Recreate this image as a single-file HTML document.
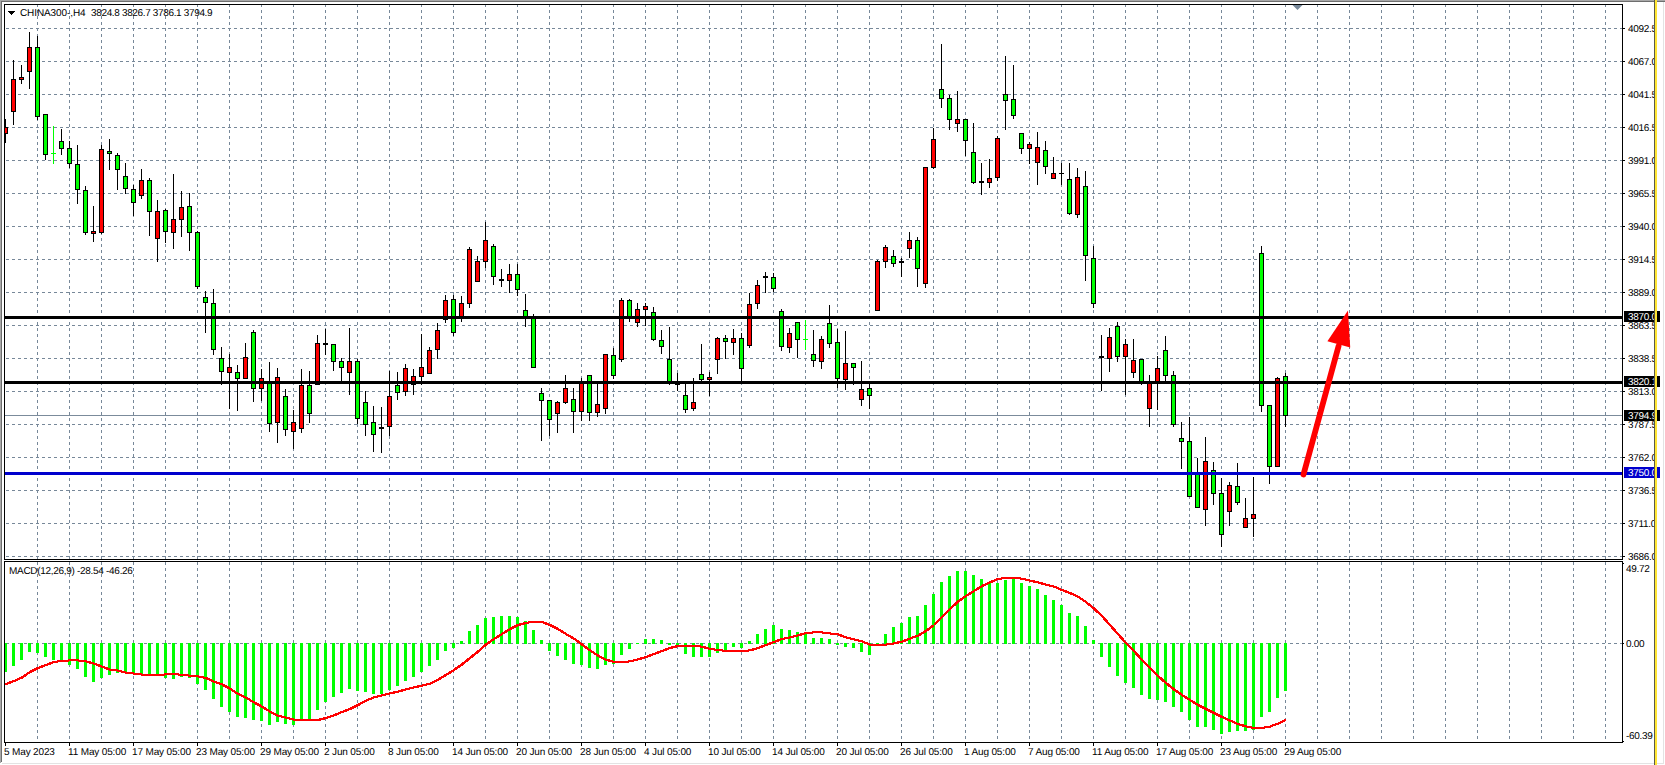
<!DOCTYPE html>
<html><head><meta charset="utf-8"><title>CHINA300-,H4</title>
<style>
html,body{margin:0;padding:0;background:#fff;overflow:hidden}
body{width:1665px;height:765px}
svg{display:block;position:absolute;left:0;top:0}
text{font-family:"Liberation Sans",sans-serif;font-size:10px;fill:#000;letter-spacing:-0.3px;text-rendering:geometricPrecision}
.w{fill:#fff}
.d{letter-spacing:-0.15px}
</style></head><body>
<svg width="1665" height="765" viewBox="0 0 1665 765">
<rect x="0" y="0" width="1665" height="765" fill="#fff"/>
<g shape-rendering="crispEdges">
<rect x="0" y="0" width="1665" height="1" fill="#a8a8a8"/>
<rect x="0" y="1" width="1665" height="1" fill="#6e6e6e"/>
<rect x="0" y="0" width="1" height="763" fill="#a8a8a8"/>
<rect x="1" y="1" width="1" height="761" fill="#6e6e6e"/>
<rect x="1663" y="2" width="1" height="762" fill="#e3e3e3"/>
<rect x="2" y="763" width="1662" height="1" fill="#e3e3e3"/>
<g stroke="#778899" stroke-width="1" stroke-dasharray="3 3" fill="none">
<line x1="37.5" y1="4" x2="37.5" y2="559"/><line x1="37.5" y1="562" x2="37.5" y2="742"/>
<line x1="69.5" y1="4" x2="69.5" y2="559"/><line x1="69.5" y1="562" x2="69.5" y2="742"/>
<line x1="101.5" y1="4" x2="101.5" y2="559"/><line x1="101.5" y1="562" x2="101.5" y2="742"/>
<line x1="133.5" y1="4" x2="133.5" y2="559"/><line x1="133.5" y1="562" x2="133.5" y2="742"/>
<line x1="165.5" y1="4" x2="165.5" y2="559"/><line x1="165.5" y1="562" x2="165.5" y2="742"/>
<line x1="197.5" y1="4" x2="197.5" y2="559"/><line x1="197.5" y1="562" x2="197.5" y2="742"/>
<line x1="229.5" y1="4" x2="229.5" y2="559"/><line x1="229.5" y1="562" x2="229.5" y2="742"/>
<line x1="261.5" y1="4" x2="261.5" y2="559"/><line x1="261.5" y1="562" x2="261.5" y2="742"/>
<line x1="293.5" y1="4" x2="293.5" y2="559"/><line x1="293.5" y1="562" x2="293.5" y2="742"/>
<line x1="325.5" y1="4" x2="325.5" y2="559"/><line x1="325.5" y1="562" x2="325.5" y2="742"/>
<line x1="357.5" y1="4" x2="357.5" y2="559"/><line x1="357.5" y1="562" x2="357.5" y2="742"/>
<line x1="389.5" y1="4" x2="389.5" y2="559"/><line x1="389.5" y1="562" x2="389.5" y2="742"/>
<line x1="421.5" y1="4" x2="421.5" y2="559"/><line x1="421.5" y1="562" x2="421.5" y2="742"/>
<line x1="453.5" y1="4" x2="453.5" y2="559"/><line x1="453.5" y1="562" x2="453.5" y2="742"/>
<line x1="485.5" y1="4" x2="485.5" y2="559"/><line x1="485.5" y1="562" x2="485.5" y2="742"/>
<line x1="517.5" y1="4" x2="517.5" y2="559"/><line x1="517.5" y1="562" x2="517.5" y2="742"/>
<line x1="549.5" y1="4" x2="549.5" y2="559"/><line x1="549.5" y1="562" x2="549.5" y2="742"/>
<line x1="581.5" y1="4" x2="581.5" y2="559"/><line x1="581.5" y1="562" x2="581.5" y2="742"/>
<line x1="613.5" y1="4" x2="613.5" y2="559"/><line x1="613.5" y1="562" x2="613.5" y2="742"/>
<line x1="645.5" y1="4" x2="645.5" y2="559"/><line x1="645.5" y1="562" x2="645.5" y2="742"/>
<line x1="677.5" y1="4" x2="677.5" y2="559"/><line x1="677.5" y1="562" x2="677.5" y2="742"/>
<line x1="709.5" y1="4" x2="709.5" y2="559"/><line x1="709.5" y1="562" x2="709.5" y2="742"/>
<line x1="741.5" y1="4" x2="741.5" y2="559"/><line x1="741.5" y1="562" x2="741.5" y2="742"/>
<line x1="773.5" y1="4" x2="773.5" y2="559"/><line x1="773.5" y1="562" x2="773.5" y2="742"/>
<line x1="805.5" y1="4" x2="805.5" y2="559"/><line x1="805.5" y1="562" x2="805.5" y2="742"/>
<line x1="837.5" y1="4" x2="837.5" y2="559"/><line x1="837.5" y1="562" x2="837.5" y2="742"/>
<line x1="869.5" y1="4" x2="869.5" y2="559"/><line x1="869.5" y1="562" x2="869.5" y2="742"/>
<line x1="901.5" y1="4" x2="901.5" y2="559"/><line x1="901.5" y1="562" x2="901.5" y2="742"/>
<line x1="933.5" y1="4" x2="933.5" y2="559"/><line x1="933.5" y1="562" x2="933.5" y2="742"/>
<line x1="965.5" y1="4" x2="965.5" y2="559"/><line x1="965.5" y1="562" x2="965.5" y2="742"/>
<line x1="997.5" y1="4" x2="997.5" y2="559"/><line x1="997.5" y1="562" x2="997.5" y2="742"/>
<line x1="1029.5" y1="4" x2="1029.5" y2="559"/><line x1="1029.5" y1="562" x2="1029.5" y2="742"/>
<line x1="1061.5" y1="4" x2="1061.5" y2="559"/><line x1="1061.5" y1="562" x2="1061.5" y2="742"/>
<line x1="1093.5" y1="4" x2="1093.5" y2="559"/><line x1="1093.5" y1="562" x2="1093.5" y2="742"/>
<line x1="1125.5" y1="4" x2="1125.5" y2="559"/><line x1="1125.5" y1="562" x2="1125.5" y2="742"/>
<line x1="1157.5" y1="4" x2="1157.5" y2="559"/><line x1="1157.5" y1="562" x2="1157.5" y2="742"/>
<line x1="1189.5" y1="4" x2="1189.5" y2="559"/><line x1="1189.5" y1="562" x2="1189.5" y2="742"/>
<line x1="1221.5" y1="4" x2="1221.5" y2="559"/><line x1="1221.5" y1="562" x2="1221.5" y2="742"/>
<line x1="1253.5" y1="4" x2="1253.5" y2="559"/><line x1="1253.5" y1="562" x2="1253.5" y2="742"/>
<line x1="1285.5" y1="4" x2="1285.5" y2="559"/><line x1="1285.5" y1="562" x2="1285.5" y2="742"/>
<line x1="1317.5" y1="4" x2="1317.5" y2="559"/><line x1="1317.5" y1="562" x2="1317.5" y2="742"/>
<line x1="1349.5" y1="4" x2="1349.5" y2="559"/><line x1="1349.5" y1="562" x2="1349.5" y2="742"/>
<line x1="1381.5" y1="4" x2="1381.5" y2="559"/><line x1="1381.5" y1="562" x2="1381.5" y2="742"/>
<line x1="1413.5" y1="4" x2="1413.5" y2="559"/><line x1="1413.5" y1="562" x2="1413.5" y2="742"/>
<line x1="1445.5" y1="4" x2="1445.5" y2="559"/><line x1="1445.5" y1="562" x2="1445.5" y2="742"/>
<line x1="1477.5" y1="4" x2="1477.5" y2="559"/><line x1="1477.5" y1="562" x2="1477.5" y2="742"/>
<line x1="1509.5" y1="4" x2="1509.5" y2="559"/><line x1="1509.5" y1="562" x2="1509.5" y2="742"/>
<line x1="1541.5" y1="4" x2="1541.5" y2="559"/><line x1="1541.5" y1="562" x2="1541.5" y2="742"/>
<line x1="1573.5" y1="4" x2="1573.5" y2="559"/><line x1="1573.5" y1="562" x2="1573.5" y2="742"/>
<line x1="1605.5" y1="4" x2="1605.5" y2="559"/><line x1="1605.5" y1="562" x2="1605.5" y2="742"/>
<line x1="6" y1="28.5" x2="1622" y2="28.5"/>
<line x1="6" y1="61.5" x2="1622" y2="61.5"/>
<line x1="6" y1="94.5" x2="1622" y2="94.5"/>
<line x1="6" y1="127.5" x2="1622" y2="127.5"/>
<line x1="6" y1="160.5" x2="1622" y2="160.5"/>
<line x1="6" y1="193.5" x2="1622" y2="193.5"/>
<line x1="6" y1="226.5" x2="1622" y2="226.5"/>
<line x1="6" y1="259.5" x2="1622" y2="259.5"/>
<line x1="6" y1="292.5" x2="1622" y2="292.5"/>
<line x1="6" y1="325.5" x2="1622" y2="325.5"/>
<line x1="6" y1="358.5" x2="1622" y2="358.5"/>
<line x1="6" y1="391.5" x2="1622" y2="391.5"/>
<line x1="6" y1="424.5" x2="1622" y2="424.5"/>
<line x1="6" y1="457.5" x2="1622" y2="457.5"/>
<line x1="6" y1="490.5" x2="1622" y2="490.5"/>
<line x1="6" y1="523.5" x2="1622" y2="523.5"/>
<line x1="6" y1="556.5" x2="1622" y2="556.5"/>
<line x1="6" y1="643.5" x2="1622" y2="643.5"/>
</g>
<polygon points="1292.5,5 1302.5,5 1297.5,10" fill="#778899" shape-rendering="auto"/>
<clipPath id="cm"><rect x="5" y="5" width="1617" height="554"/></clipPath>
<g clip-path="url(#cm)">
<rect x="5" y="415" width="1617" height="1" fill="#7b8b9b"/>
<rect x="5" y="119" width="1" height="24" fill="#000"/><rect x="3" y="127" width="5" height="7" fill="#000"/><rect x="4" y="128" width="3" height="5" fill="#f00"/>
<rect x="13" y="60" width="1" height="65" fill="#000"/><rect x="11" y="79" width="5" height="33" fill="#000"/><rect x="12" y="80" width="3" height="31" fill="#f00"/>
<rect x="21" y="65" width="1" height="19" fill="#000"/><rect x="19" y="77" width="5" height="3" fill="#000"/><rect x="20" y="78" width="3" height="1" fill="#f00"/>
<rect x="29" y="32" width="1" height="57" fill="#000"/><rect x="27" y="47" width="5" height="25" fill="#000"/><rect x="28" y="48" width="3" height="23" fill="#f00"/>
<rect x="37" y="36" width="1" height="84" fill="#000"/><rect x="35" y="47" width="5" height="70" fill="#000"/><rect x="36" y="48" width="3" height="68" fill="#0f0"/>
<rect x="45" y="114" width="1" height="46" fill="#000"/><rect x="43" y="114" width="5" height="41" fill="#000"/><rect x="44" y="115" width="3" height="39" fill="#0f0"/>
<rect x="53" y="126" width="1" height="38" fill="#0f0"/><rect x="51" y="153" width="5" height="1" fill="#0f0"/>
<rect x="61" y="129" width="1" height="26" fill="#000"/><rect x="59" y="141" width="5" height="8" fill="#000"/><rect x="60" y="142" width="3" height="6" fill="#0f0"/>
<rect x="69" y="141" width="1" height="27" fill="#000"/><rect x="67" y="148" width="5" height="16" fill="#000"/><rect x="68" y="149" width="3" height="14" fill="#0f0"/>
<rect x="77" y="145" width="1" height="59" fill="#000"/><rect x="75" y="164" width="5" height="26" fill="#000"/><rect x="76" y="165" width="3" height="24" fill="#0f0"/>
<rect x="85" y="186" width="1" height="49" fill="#000"/><rect x="83" y="190" width="5" height="43" fill="#000"/><rect x="84" y="191" width="3" height="41" fill="#0f0"/>
<rect x="93" y="206" width="1" height="36" fill="#000"/><rect x="91" y="231" width="5" height="3" fill="#000"/><rect x="92" y="232" width="3" height="1" fill="#f00"/>
<rect x="101" y="145" width="1" height="89" fill="#000"/><rect x="99" y="149" width="5" height="84" fill="#000"/><rect x="100" y="150" width="3" height="82" fill="#f00"/>
<rect x="109" y="139" width="1" height="31" fill="#000"/><rect x="107" y="151" width="5" height="3" fill="#000"/><rect x="108" y="152" width="3" height="1" fill="#0f0"/>
<rect x="117" y="153" width="1" height="37" fill="#000"/><rect x="115" y="155" width="5" height="15" fill="#000"/><rect x="116" y="156" width="3" height="13" fill="#0f0"/>
<rect x="125" y="163" width="1" height="31" fill="#000"/><rect x="123" y="176" width="5" height="13" fill="#000"/><rect x="124" y="177" width="3" height="11" fill="#0f0"/>
<rect x="133" y="185" width="1" height="31" fill="#000"/><rect x="131" y="189" width="5" height="14" fill="#000"/><rect x="132" y="190" width="3" height="12" fill="#0f0"/>
<rect x="141" y="169" width="1" height="30" fill="#000"/><rect x="139" y="180" width="5" height="16" fill="#000"/><rect x="140" y="181" width="3" height="14" fill="#f00"/>
<rect x="149" y="178" width="1" height="58" fill="#000"/><rect x="147" y="180" width="5" height="32" fill="#000"/><rect x="148" y="181" width="3" height="30" fill="#0f0"/>
<rect x="157" y="200" width="1" height="62" fill="#000"/><rect x="155" y="211" width="5" height="28" fill="#000"/><rect x="156" y="212" width="3" height="26" fill="#f00"/>
<rect x="165" y="209" width="1" height="34" fill="#000"/><rect x="163" y="210" width="5" height="22" fill="#000"/><rect x="164" y="211" width="3" height="20" fill="#0f0"/>
<rect x="173" y="174" width="1" height="75" fill="#000"/><rect x="171" y="219" width="5" height="14" fill="#000"/><rect x="172" y="220" width="3" height="12" fill="#f00"/>
<rect x="181" y="191" width="1" height="46" fill="#000"/><rect x="179" y="207" width="5" height="13" fill="#000"/><rect x="180" y="208" width="3" height="11" fill="#f00"/>
<rect x="189" y="193" width="1" height="58" fill="#000"/><rect x="187" y="206" width="5" height="27" fill="#000"/><rect x="188" y="207" width="3" height="25" fill="#0f0"/>
<rect x="197" y="231" width="1" height="58" fill="#000"/><rect x="195" y="232" width="5" height="55" fill="#000"/><rect x="196" y="233" width="3" height="53" fill="#0f0"/>
<rect x="205" y="291" width="1" height="42" fill="#000"/><rect x="203" y="297" width="5" height="6" fill="#000"/><rect x="204" y="298" width="3" height="4" fill="#0f0"/>
<rect x="213" y="289" width="1" height="66" fill="#000"/><rect x="211" y="303" width="5" height="47" fill="#000"/><rect x="212" y="304" width="3" height="45" fill="#0f0"/>
<rect x="221" y="347" width="1" height="38" fill="#000"/><rect x="219" y="358" width="5" height="14" fill="#000"/><rect x="220" y="359" width="3" height="12" fill="#0f0"/>
<rect x="229" y="354" width="1" height="55" fill="#000"/><rect x="227" y="367" width="5" height="6" fill="#000"/><rect x="228" y="368" width="3" height="4" fill="#f00"/>
<rect x="237" y="365" width="1" height="46" fill="#000"/><rect x="235" y="372" width="5" height="7" fill="#000"/><rect x="236" y="373" width="3" height="5" fill="#0f0"/>
<rect x="245" y="343" width="1" height="36" fill="#000"/><rect x="243" y="357" width="5" height="22" fill="#000"/><rect x="244" y="358" width="3" height="20" fill="#f00"/>
<rect x="253" y="330" width="1" height="72" fill="#000"/><rect x="251" y="332" width="5" height="57" fill="#000"/><rect x="252" y="333" width="3" height="55" fill="#0f0"/>
<rect x="261" y="369" width="1" height="32" fill="#000"/><rect x="259" y="378" width="5" height="11" fill="#000"/><rect x="260" y="379" width="3" height="9" fill="#f00"/>
<rect x="269" y="362" width="1" height="70" fill="#000"/><rect x="267" y="382" width="5" height="42" fill="#000"/><rect x="268" y="383" width="3" height="40" fill="#0f0"/>
<rect x="277" y="368" width="1" height="75" fill="#000"/><rect x="275" y="377" width="5" height="46" fill="#000"/><rect x="276" y="378" width="3" height="44" fill="#f00"/>
<rect x="285" y="389" width="1" height="47" fill="#000"/><rect x="283" y="396" width="5" height="34" fill="#000"/><rect x="284" y="397" width="3" height="32" fill="#0f0"/>
<rect x="293" y="410" width="1" height="39" fill="#000"/><rect x="291" y="422" width="5" height="10" fill="#000"/><rect x="292" y="423" width="3" height="8" fill="#f00"/>
<rect x="301" y="369" width="1" height="64" fill="#000"/><rect x="299" y="385" width="5" height="44" fill="#000"/><rect x="300" y="386" width="3" height="42" fill="#f00"/>
<rect x="309" y="371" width="1" height="52" fill="#000"/><rect x="307" y="385" width="5" height="29" fill="#000"/><rect x="308" y="386" width="3" height="27" fill="#0f0"/>
<rect x="317" y="335" width="1" height="50" fill="#000"/><rect x="315" y="343" width="5" height="42" fill="#000"/><rect x="316" y="344" width="3" height="40" fill="#f00"/>
<rect x="325" y="329" width="1" height="26" fill="#000"/><rect x="323" y="343" width="5" height="2" fill="#000"/>
<rect x="333" y="344" width="1" height="27" fill="#000"/><rect x="331" y="344" width="5" height="18" fill="#000"/><rect x="332" y="345" width="3" height="16" fill="#0f0"/>
<rect x="341" y="358" width="1" height="24" fill="#000"/><rect x="339" y="361" width="5" height="7" fill="#000"/><rect x="340" y="362" width="3" height="5" fill="#0f0"/>
<rect x="349" y="328" width="1" height="67" fill="#000"/><rect x="347" y="361" width="5" height="12" fill="#000"/><rect x="348" y="362" width="3" height="10" fill="#f00"/>
<rect x="357" y="359" width="1" height="65" fill="#000"/><rect x="355" y="361" width="5" height="58" fill="#000"/><rect x="356" y="362" width="3" height="56" fill="#0f0"/>
<rect x="365" y="391" width="1" height="45" fill="#000"/><rect x="363" y="402" width="5" height="23" fill="#000"/><rect x="364" y="403" width="3" height="21" fill="#0f0"/>
<rect x="373" y="406" width="1" height="46" fill="#000"/><rect x="371" y="422" width="5" height="13" fill="#000"/><rect x="372" y="423" width="3" height="11" fill="#0f0"/>
<rect x="381" y="407" width="1" height="46" fill="#000"/><rect x="379" y="427" width="5" height="2" fill="#000"/>
<rect x="389" y="371" width="1" height="65" fill="#000"/><rect x="387" y="396" width="5" height="31" fill="#000"/><rect x="388" y="397" width="3" height="29" fill="#f00"/>
<rect x="397" y="372" width="1" height="28" fill="#000"/><rect x="395" y="385" width="5" height="8" fill="#000"/><rect x="396" y="386" width="3" height="6" fill="#0f0"/>
<rect x="405" y="364" width="1" height="32" fill="#000"/><rect x="403" y="368" width="5" height="24" fill="#000"/><rect x="404" y="369" width="3" height="22" fill="#f00"/>
<rect x="413" y="369" width="1" height="26" fill="#000"/><rect x="411" y="376" width="5" height="9" fill="#000"/><rect x="412" y="377" width="3" height="7" fill="#f00"/>
<rect x="421" y="334" width="1" height="51" fill="#000"/><rect x="419" y="367" width="5" height="10" fill="#000"/><rect x="420" y="368" width="3" height="8" fill="#f00"/>
<rect x="429" y="347" width="1" height="27" fill="#000"/><rect x="427" y="350" width="5" height="24" fill="#000"/><rect x="428" y="351" width="3" height="22" fill="#f00"/>
<rect x="437" y="323" width="1" height="36" fill="#000"/><rect x="435" y="330" width="5" height="20" fill="#000"/><rect x="436" y="331" width="3" height="18" fill="#f00"/>
<rect x="445" y="295" width="1" height="28" fill="#000"/><rect x="443" y="300" width="5" height="20" fill="#000"/><rect x="444" y="301" width="3" height="18" fill="#f00"/>
<rect x="453" y="295" width="1" height="41" fill="#000"/><rect x="451" y="299" width="5" height="34" fill="#000"/><rect x="452" y="300" width="3" height="32" fill="#0f0"/>
<rect x="461" y="296" width="1" height="26" fill="#000"/><rect x="459" y="303" width="5" height="16" fill="#000"/><rect x="460" y="304" width="3" height="14" fill="#f00"/>
<rect x="469" y="247" width="1" height="61" fill="#000"/><rect x="467" y="249" width="5" height="55" fill="#000"/><rect x="468" y="250" width="3" height="53" fill="#f00"/>
<rect x="477" y="256" width="1" height="26" fill="#000"/><rect x="475" y="261" width="5" height="21" fill="#000"/><rect x="476" y="262" width="3" height="19" fill="#f00"/>
<rect x="485" y="222" width="1" height="46" fill="#000"/><rect x="483" y="240" width="5" height="22" fill="#000"/><rect x="484" y="241" width="3" height="20" fill="#f00"/>
<rect x="493" y="244" width="1" height="41" fill="#000"/><rect x="491" y="246" width="5" height="31" fill="#000"/><rect x="492" y="247" width="3" height="29" fill="#0f0"/>
<rect x="501" y="269" width="1" height="18" fill="#000"/><rect x="499" y="279" width="5" height="2" fill="#000"/>
<rect x="509" y="264" width="1" height="29" fill="#000"/><rect x="507" y="274" width="5" height="7" fill="#000"/><rect x="508" y="275" width="3" height="5" fill="#f00"/>
<rect x="517" y="264" width="1" height="32" fill="#000"/><rect x="515" y="274" width="5" height="16" fill="#000"/><rect x="516" y="275" width="3" height="14" fill="#0f0"/>
<rect x="525" y="294" width="1" height="33" fill="#000"/><rect x="523" y="310" width="5" height="9" fill="#000"/><rect x="524" y="311" width="3" height="7" fill="#0f0"/>
<rect x="533" y="314" width="1" height="54" fill="#000"/><rect x="531" y="316" width="5" height="52" fill="#000"/><rect x="532" y="317" width="3" height="50" fill="#0f0"/>
<rect x="541" y="388" width="1" height="53" fill="#000"/><rect x="539" y="393" width="5" height="8" fill="#000"/><rect x="540" y="394" width="3" height="6" fill="#0f0"/>
<rect x="549" y="400" width="1" height="36" fill="#000"/><rect x="547" y="400" width="5" height="20" fill="#000"/><rect x="548" y="401" width="3" height="18" fill="#0f0"/>
<rect x="557" y="401" width="1" height="32" fill="#000"/><rect x="555" y="402" width="5" height="12" fill="#000"/><rect x="556" y="403" width="3" height="10" fill="#f00"/>
<rect x="565" y="375" width="1" height="29" fill="#000"/><rect x="563" y="388" width="5" height="15" fill="#000"/><rect x="564" y="389" width="3" height="13" fill="#f00"/>
<rect x="573" y="388" width="1" height="45" fill="#000"/><rect x="571" y="399" width="5" height="13" fill="#000"/><rect x="572" y="400" width="3" height="11" fill="#0f0"/>
<rect x="581" y="378" width="1" height="43" fill="#000"/><rect x="579" y="382" width="5" height="30" fill="#000"/><rect x="580" y="383" width="3" height="28" fill="#f00"/>
<rect x="589" y="375" width="1" height="46" fill="#000"/><rect x="587" y="375" width="5" height="38" fill="#000"/><rect x="588" y="376" width="3" height="36" fill="#0f0"/>
<rect x="597" y="381" width="1" height="36" fill="#000"/><rect x="595" y="404" width="5" height="9" fill="#000"/><rect x="596" y="405" width="3" height="7" fill="#f00"/>
<rect x="605" y="354" width="1" height="60" fill="#000"/><rect x="603" y="354" width="5" height="55" fill="#000"/><rect x="604" y="355" width="3" height="53" fill="#f00"/>
<rect x="613" y="348" width="1" height="31" fill="#000"/><rect x="611" y="355" width="5" height="21" fill="#000"/><rect x="612" y="356" width="3" height="19" fill="#0f0"/>
<rect x="621" y="298" width="1" height="64" fill="#000"/><rect x="619" y="300" width="5" height="60" fill="#000"/><rect x="620" y="301" width="3" height="58" fill="#f00"/>
<rect x="629" y="299" width="1" height="23" fill="#000"/><rect x="627" y="300" width="5" height="19" fill="#000"/><rect x="628" y="301" width="3" height="17" fill="#0f0"/>
<rect x="637" y="303" width="1" height="24" fill="#000"/><rect x="635" y="309" width="5" height="14" fill="#000"/><rect x="636" y="310" width="3" height="12" fill="#f00"/>
<rect x="645" y="303" width="1" height="23" fill="#000"/><rect x="643" y="306" width="5" height="4" fill="#000"/><rect x="644" y="307" width="3" height="2" fill="#f00"/>
<rect x="653" y="307" width="1" height="34" fill="#000"/><rect x="651" y="312" width="5" height="28" fill="#000"/><rect x="652" y="313" width="3" height="26" fill="#0f0"/>
<rect x="661" y="330" width="1" height="24" fill="#000"/><rect x="659" y="340" width="5" height="7" fill="#000"/><rect x="660" y="341" width="3" height="5" fill="#0f0"/>
<rect x="669" y="327" width="1" height="58" fill="#000"/><rect x="667" y="359" width="5" height="25" fill="#000"/><rect x="668" y="360" width="3" height="23" fill="#0f0"/>
<rect x="677" y="373" width="1" height="18" fill="#000"/><rect x="675" y="384" width="5" height="1" fill="#000"/>
<rect x="685" y="381" width="1" height="32" fill="#000"/><rect x="683" y="395" width="5" height="15" fill="#000"/><rect x="684" y="396" width="3" height="13" fill="#0f0"/>
<rect x="693" y="378" width="1" height="33" fill="#000"/><rect x="691" y="402" width="5" height="7" fill="#000"/><rect x="692" y="403" width="3" height="5" fill="#f00"/>
<rect x="701" y="344" width="1" height="38" fill="#000"/><rect x="699" y="374" width="5" height="6" fill="#000"/><rect x="700" y="375" width="3" height="4" fill="#0f0"/>
<rect x="709" y="372" width="1" height="24" fill="#000"/><rect x="707" y="377" width="5" height="3" fill="#000"/><rect x="708" y="378" width="3" height="1" fill="#f00"/>
<rect x="717" y="337" width="1" height="37" fill="#000"/><rect x="715" y="338" width="5" height="22" fill="#000"/><rect x="716" y="339" width="3" height="20" fill="#f00"/>
<rect x="725" y="335" width="1" height="24" fill="#000"/><rect x="723" y="338" width="5" height="4" fill="#000"/><rect x="724" y="339" width="3" height="2" fill="#0f0"/>
<rect x="733" y="329" width="1" height="26" fill="#000"/><rect x="731" y="338" width="5" height="5" fill="#000"/><rect x="732" y="339" width="3" height="3" fill="#f00"/>
<rect x="741" y="333" width="1" height="49" fill="#000"/><rect x="739" y="338" width="5" height="31" fill="#000"/><rect x="740" y="339" width="3" height="29" fill="#0f0"/>
<rect x="749" y="293" width="1" height="55" fill="#000"/><rect x="747" y="304" width="5" height="42" fill="#000"/><rect x="748" y="305" width="3" height="40" fill="#f00"/>
<rect x="757" y="280" width="1" height="29" fill="#000"/><rect x="755" y="285" width="5" height="19" fill="#000"/><rect x="756" y="286" width="3" height="17" fill="#f00"/>
<rect x="765" y="272" width="1" height="21" fill="#000"/><rect x="763" y="276" width="5" height="2" fill="#000"/>
<rect x="773" y="273" width="1" height="19" fill="#000"/><rect x="771" y="277" width="5" height="12" fill="#000"/><rect x="772" y="278" width="3" height="10" fill="#0f0"/>
<rect x="781" y="309" width="1" height="42" fill="#000"/><rect x="779" y="311" width="5" height="36" fill="#000"/><rect x="780" y="312" width="3" height="34" fill="#0f0"/>
<rect x="789" y="328" width="1" height="25" fill="#000"/><rect x="787" y="333" width="5" height="15" fill="#000"/><rect x="788" y="334" width="3" height="13" fill="#f00"/>
<rect x="797" y="322" width="1" height="36" fill="#000"/><rect x="795" y="322" width="5" height="18" fill="#000"/><rect x="796" y="323" width="3" height="16" fill="#0f0"/>
<rect x="805" y="320" width="1" height="30" fill="#0f0"/><rect x="803" y="339" width="5" height="1" fill="#0f0"/>
<rect x="813" y="330" width="1" height="37" fill="#000"/><rect x="811" y="354" width="5" height="7" fill="#000"/><rect x="812" y="355" width="3" height="5" fill="#0f0"/>
<rect x="821" y="336" width="1" height="33" fill="#000"/><rect x="819" y="339" width="5" height="23" fill="#000"/><rect x="820" y="340" width="3" height="21" fill="#f00"/>
<rect x="829" y="305" width="1" height="43" fill="#000"/><rect x="827" y="323" width="5" height="21" fill="#000"/><rect x="828" y="324" width="3" height="19" fill="#0f0"/>
<rect x="837" y="329" width="1" height="59" fill="#000"/><rect x="835" y="342" width="5" height="37" fill="#000"/><rect x="836" y="343" width="3" height="35" fill="#0f0"/>
<rect x="845" y="331" width="1" height="59" fill="#000"/><rect x="843" y="363" width="5" height="17" fill="#000"/><rect x="844" y="364" width="3" height="15" fill="#f00"/>
<rect x="853" y="363" width="1" height="22" fill="#000"/><rect x="851" y="363" width="5" height="5" fill="#000"/><rect x="852" y="364" width="3" height="3" fill="#0f0"/>
<rect x="861" y="361" width="1" height="45" fill="#000"/><rect x="859" y="389" width="5" height="11" fill="#000"/><rect x="860" y="390" width="3" height="9" fill="#f00"/>
<rect x="869" y="384" width="1" height="25" fill="#000"/><rect x="867" y="388" width="5" height="8" fill="#000"/><rect x="868" y="389" width="3" height="6" fill="#0f0"/>
<rect x="877" y="260" width="1" height="51" fill="#000"/><rect x="875" y="261" width="5" height="50" fill="#000"/><rect x="876" y="262" width="3" height="48" fill="#f00"/>
<rect x="885" y="245" width="1" height="23" fill="#000"/><rect x="883" y="247" width="5" height="15" fill="#000"/><rect x="884" y="248" width="3" height="13" fill="#f00"/>
<rect x="893" y="250" width="1" height="17" fill="#000"/><rect x="891" y="256" width="5" height="8" fill="#000"/><rect x="892" y="257" width="3" height="6" fill="#0f0"/>
<rect x="901" y="258" width="1" height="19" fill="#000"/><rect x="899" y="261" width="5" height="2" fill="#000"/>
<rect x="909" y="232" width="1" height="26" fill="#000"/><rect x="907" y="240" width="5" height="9" fill="#000"/><rect x="908" y="241" width="3" height="7" fill="#f00"/>
<rect x="917" y="237" width="1" height="50" fill="#000"/><rect x="915" y="240" width="5" height="29" fill="#000"/><rect x="916" y="241" width="3" height="27" fill="#0f0"/>
<rect x="925" y="167" width="1" height="121" fill="#000"/><rect x="923" y="167" width="5" height="117" fill="#000"/><rect x="924" y="168" width="3" height="115" fill="#f00"/>
<rect x="933" y="128" width="1" height="41" fill="#000"/><rect x="931" y="139" width="5" height="29" fill="#000"/><rect x="932" y="140" width="3" height="27" fill="#f00"/>
<rect x="941" y="44" width="1" height="64" fill="#000"/><rect x="939" y="89" width="5" height="10" fill="#000"/><rect x="940" y="90" width="3" height="8" fill="#0f0"/>
<rect x="949" y="95" width="1" height="35" fill="#000"/><rect x="947" y="98" width="5" height="22" fill="#000"/><rect x="948" y="99" width="3" height="20" fill="#0f0"/>
<rect x="957" y="91" width="1" height="41" fill="#000"/><rect x="955" y="119" width="5" height="5" fill="#000"/><rect x="956" y="120" width="3" height="3" fill="#f00"/>
<rect x="965" y="119" width="1" height="37" fill="#000"/><rect x="963" y="119" width="5" height="22" fill="#000"/><rect x="964" y="120" width="3" height="20" fill="#0f0"/>
<rect x="973" y="123" width="1" height="61" fill="#000"/><rect x="971" y="152" width="5" height="31" fill="#000"/><rect x="972" y="153" width="3" height="29" fill="#0f0"/>
<rect x="981" y="163" width="1" height="32" fill="#000"/><rect x="979" y="181" width="5" height="2" fill="#000"/>
<rect x="989" y="159" width="1" height="29" fill="#000"/><rect x="987" y="178" width="5" height="5" fill="#000"/><rect x="988" y="179" width="3" height="3" fill="#f00"/>
<rect x="997" y="136" width="1" height="45" fill="#000"/><rect x="995" y="138" width="5" height="40" fill="#000"/><rect x="996" y="139" width="3" height="38" fill="#f00"/>
<rect x="1005" y="56" width="1" height="74" fill="#000"/><rect x="1003" y="94" width="5" height="7" fill="#000"/><rect x="1004" y="95" width="3" height="5" fill="#0f0"/>
<rect x="1013" y="65" width="1" height="54" fill="#000"/><rect x="1011" y="99" width="5" height="17" fill="#000"/><rect x="1012" y="100" width="3" height="15" fill="#0f0"/>
<rect x="1021" y="133" width="1" height="21" fill="#000"/><rect x="1019" y="133" width="5" height="16" fill="#000"/><rect x="1020" y="134" width="3" height="14" fill="#0f0"/>
<rect x="1029" y="142" width="1" height="22" fill="#000"/><rect x="1027" y="144" width="5" height="5" fill="#000"/><rect x="1028" y="145" width="3" height="3" fill="#f00"/>
<rect x="1037" y="132" width="1" height="53" fill="#000"/><rect x="1035" y="147" width="5" height="16" fill="#000"/><rect x="1036" y="148" width="3" height="14" fill="#f00"/>
<rect x="1045" y="141" width="1" height="33" fill="#000"/><rect x="1043" y="150" width="5" height="17" fill="#000"/><rect x="1044" y="151" width="3" height="15" fill="#0f0"/>
<rect x="1053" y="157" width="1" height="22" fill="#000"/><rect x="1051" y="173" width="5" height="6" fill="#000"/><rect x="1052" y="174" width="3" height="4" fill="#f00"/>
<rect x="1061" y="163" width="1" height="22" fill="#000"/><rect x="1059" y="173" width="5" height="1" fill="#000"/>
<rect x="1069" y="163" width="1" height="52" fill="#000"/><rect x="1067" y="179" width="5" height="35" fill="#000"/><rect x="1068" y="180" width="3" height="33" fill="#0f0"/>
<rect x="1077" y="168" width="1" height="50" fill="#000"/><rect x="1075" y="177" width="5" height="38" fill="#000"/><rect x="1076" y="178" width="3" height="36" fill="#f00"/>
<rect x="1085" y="171" width="1" height="110" fill="#000"/><rect x="1083" y="186" width="5" height="70" fill="#000"/><rect x="1084" y="187" width="3" height="68" fill="#0f0"/>
<rect x="1093" y="246" width="1" height="62" fill="#000"/><rect x="1091" y="258" width="5" height="46" fill="#000"/><rect x="1092" y="259" width="3" height="44" fill="#0f0"/>
<rect x="1101" y="335" width="1" height="56" fill="#000"/><rect x="1099" y="356" width="5" height="2" fill="#000"/>
<rect x="1109" y="328" width="1" height="44" fill="#000"/><rect x="1107" y="337" width="5" height="22" fill="#000"/><rect x="1108" y="338" width="3" height="20" fill="#f00"/>
<rect x="1117" y="322" width="1" height="40" fill="#000"/><rect x="1115" y="326" width="5" height="31" fill="#000"/><rect x="1116" y="327" width="3" height="29" fill="#0f0"/>
<rect x="1125" y="339" width="1" height="56" fill="#000"/><rect x="1123" y="344" width="5" height="13" fill="#000"/><rect x="1124" y="345" width="3" height="11" fill="#f00"/>
<rect x="1133" y="339" width="1" height="39" fill="#000"/><rect x="1131" y="360" width="5" height="13" fill="#000"/><rect x="1132" y="361" width="3" height="11" fill="#f00"/>
<rect x="1141" y="359" width="1" height="26" fill="#000"/><rect x="1139" y="359" width="5" height="25" fill="#000"/><rect x="1140" y="360" width="3" height="23" fill="#0f0"/>
<rect x="1149" y="375" width="1" height="52" fill="#000"/><rect x="1147" y="382" width="5" height="27" fill="#000"/><rect x="1148" y="383" width="3" height="25" fill="#f00"/>
<rect x="1157" y="356" width="1" height="54" fill="#000"/><rect x="1155" y="368" width="5" height="15" fill="#000"/><rect x="1156" y="369" width="3" height="13" fill="#f00"/>
<rect x="1165" y="336" width="1" height="46" fill="#000"/><rect x="1163" y="350" width="5" height="26" fill="#000"/><rect x="1164" y="351" width="3" height="24" fill="#0f0"/>
<rect x="1173" y="371" width="1" height="56" fill="#000"/><rect x="1171" y="375" width="5" height="50" fill="#000"/><rect x="1172" y="376" width="3" height="48" fill="#0f0"/>
<rect x="1181" y="422" width="1" height="47" fill="#000"/><rect x="1179" y="438" width="5" height="4" fill="#000"/><rect x="1180" y="439" width="3" height="2" fill="#0f0"/>
<rect x="1189" y="417" width="1" height="80" fill="#000"/><rect x="1187" y="441" width="5" height="56" fill="#000"/><rect x="1188" y="442" width="3" height="54" fill="#0f0"/>
<rect x="1197" y="458" width="1" height="50" fill="#000"/><rect x="1195" y="473" width="5" height="35" fill="#000"/><rect x="1196" y="474" width="3" height="33" fill="#0f0"/>
<rect x="1205" y="437" width="1" height="89" fill="#000"/><rect x="1203" y="461" width="5" height="49" fill="#000"/><rect x="1204" y="462" width="3" height="47" fill="#f00"/>
<rect x="1213" y="462" width="1" height="43" fill="#000"/><rect x="1211" y="470" width="5" height="24" fill="#000"/><rect x="1212" y="471" width="3" height="22" fill="#0f0"/>
<rect x="1221" y="478" width="1" height="69" fill="#000"/><rect x="1219" y="493" width="5" height="42" fill="#000"/><rect x="1220" y="494" width="3" height="40" fill="#0f0"/>
<rect x="1229" y="482" width="1" height="44" fill="#000"/><rect x="1227" y="485" width="5" height="27" fill="#000"/><rect x="1228" y="486" width="3" height="25" fill="#f00"/>
<rect x="1237" y="463" width="1" height="42" fill="#000"/><rect x="1235" y="486" width="5" height="17" fill="#000"/><rect x="1236" y="487" width="3" height="15" fill="#0f0"/>
<rect x="1245" y="498" width="1" height="30" fill="#000"/><rect x="1243" y="518" width="5" height="10" fill="#000"/><rect x="1244" y="519" width="3" height="8" fill="#f00"/>
<rect x="1253" y="477" width="1" height="60" fill="#000"/><rect x="1251" y="514" width="5" height="5" fill="#000"/><rect x="1252" y="515" width="3" height="3" fill="#f00"/>
<rect x="1261" y="246" width="1" height="166" fill="#000"/><rect x="1259" y="253" width="5" height="153" fill="#000"/><rect x="1260" y="254" width="3" height="151" fill="#0f0"/>
<rect x="1269" y="405" width="1" height="79" fill="#000"/><rect x="1267" y="405" width="5" height="62" fill="#000"/><rect x="1268" y="406" width="3" height="60" fill="#0f0"/>
<rect x="1277" y="377" width="1" height="90" fill="#000"/><rect x="1275" y="378" width="5" height="89" fill="#000"/><rect x="1276" y="379" width="3" height="87" fill="#f00"/>
<rect x="1285" y="373" width="1" height="54" fill="#000"/><rect x="1283" y="376" width="5" height="40" fill="#000"/><rect x="1284" y="377" width="3" height="38" fill="#0f0"/>
<rect x="5" y="316" width="1617" height="3" fill="#000"/>
<rect x="5" y="381" width="1617" height="3" fill="#000"/>
<rect x="5" y="472" width="1617" height="3" fill="#0000cd"/>
</g>
<g fill="#0f0">
<rect x="4" y="643" width="3" height="29"/><rect x="12" y="643" width="3" height="23"/><rect x="20" y="643" width="3" height="17"/><rect x="28" y="643" width="3" height="9"/><rect x="36" y="643" width="3" height="10"/><rect x="44" y="643" width="3" height="14"/><rect x="52" y="643" width="3" height="17"/><rect x="60" y="643" width="3" height="18"/><rect x="68" y="643" width="3" height="22"/><rect x="76" y="643" width="3" height="26"/><rect x="84" y="643" width="3" height="34"/><rect x="92" y="643" width="3" height="39"/><rect x="100" y="643" width="3" height="35"/><rect x="108" y="643" width="3" height="32"/><rect x="116" y="643" width="3" height="30"/><rect x="124" y="643" width="3" height="30"/><rect x="132" y="643" width="3" height="31"/><rect x="140" y="643" width="3" height="31"/><rect x="148" y="643" width="3" height="32"/><rect x="156" y="643" width="3" height="32"/><rect x="164" y="643" width="3" height="35"/><rect x="172" y="643" width="3" height="36"/><rect x="180" y="643" width="3" height="34"/><rect x="188" y="643" width="3" height="35"/><rect x="196" y="643" width="3" height="41"/><rect x="204" y="643" width="3" height="47"/><rect x="212" y="643" width="3" height="56"/><rect x="220" y="643" width="3" height="64"/><rect x="228" y="643" width="3" height="69"/><rect x="236" y="643" width="3" height="74"/><rect x="244" y="643" width="3" height="75"/><rect x="252" y="643" width="3" height="77"/><rect x="260" y="643" width="3" height="78"/><rect x="268" y="643" width="3" height="82"/><rect x="276" y="643" width="3" height="79"/><rect x="284" y="643" width="3" height="81"/><rect x="292" y="643" width="3" height="82"/><rect x="300" y="643" width="3" height="78"/><rect x="308" y="643" width="3" height="77"/><rect x="316" y="643" width="3" height="67"/><rect x="324" y="643" width="3" height="59"/><rect x="332" y="643" width="3" height="54"/><rect x="340" y="643" width="3" height="50"/><rect x="348" y="643" width="3" height="46"/><rect x="356" y="643" width="3" height="48"/><rect x="364" y="643" width="3" height="49"/><rect x="372" y="643" width="3" height="51"/><rect x="380" y="643" width="3" height="51"/><rect x="388" y="643" width="3" height="47"/><rect x="396" y="643" width="3" height="43"/><rect x="404" y="643" width="3" height="38"/><rect x="412" y="643" width="3" height="34"/><rect x="420" y="643" width="3" height="29"/><rect x="428" y="643" width="3" height="23"/><rect x="436" y="643" width="3" height="17"/><rect x="444" y="643" width="3" height="8"/><rect x="452" y="643" width="3" height="5"/><rect x="460" y="641" width="3" height="3"/><rect x="468" y="631" width="3" height="13"/><rect x="476" y="625" width="3" height="19"/><rect x="484" y="618" width="3" height="26"/><rect x="492" y="617" width="3" height="27"/><rect x="500" y="616" width="3" height="28"/><rect x="508" y="616" width="3" height="28"/><rect x="516" y="617" width="3" height="27"/><rect x="524" y="621" width="3" height="23"/><rect x="532" y="630" width="3" height="14"/><rect x="540" y="640" width="3" height="4"/><rect x="548" y="643" width="3" height="8"/><rect x="556" y="643" width="3" height="13"/><rect x="564" y="643" width="3" height="17"/><rect x="572" y="643" width="3" height="21"/><rect x="580" y="643" width="3" height="22"/><rect x="588" y="643" width="3" height="25"/><rect x="596" y="643" width="3" height="26"/><rect x="604" y="643" width="3" height="22"/><rect x="612" y="643" width="3" height="21"/><rect x="620" y="643" width="3" height="12"/><rect x="628" y="643" width="3" height="6"/><rect x="636" y="643" width="3" height="1"/><rect x="644" y="639" width="3" height="5"/><rect x="652" y="639" width="3" height="5"/><rect x="660" y="640" width="3" height="4"/><rect x="668" y="643" width="3" height="2"/><rect x="676" y="643" width="3" height="4"/><rect x="684" y="643" width="3" height="11"/><rect x="692" y="643" width="3" height="14"/><rect x="700" y="643" width="3" height="14"/><rect x="708" y="643" width="3" height="14"/><rect x="716" y="643" width="3" height="10"/><rect x="724" y="643" width="3" height="7"/><rect x="732" y="643" width="3" height="4"/><rect x="740" y="643" width="3" height="5"/><rect x="748" y="641" width="3" height="3"/><rect x="756" y="634" width="3" height="10"/><rect x="764" y="629" width="3" height="15"/><rect x="772" y="625" width="3" height="19"/><rect x="780" y="629" width="3" height="15"/><rect x="788" y="630" width="3" height="14"/><rect x="796" y="632" width="3" height="12"/><rect x="804" y="634" width="3" height="10"/><rect x="812" y="638" width="3" height="6"/><rect x="820" y="638" width="3" height="6"/><rect x="828" y="639" width="3" height="5"/><rect x="836" y="643" width="3" height="2"/><rect x="844" y="643" width="3" height="4"/><rect x="852" y="643" width="3" height="5"/><rect x="860" y="643" width="3" height="9"/><rect x="868" y="643" width="3" height="12"/><rect x="876" y="643" width="3" height="1"/><rect x="884" y="634" width="3" height="10"/><rect x="892" y="627" width="3" height="17"/><rect x="900" y="623" width="3" height="21"/><rect x="908" y="617" width="3" height="27"/><rect x="916" y="616" width="3" height="28"/><rect x="924" y="605" width="3" height="39"/><rect x="932" y="594" width="3" height="50"/><rect x="940" y="582" width="3" height="62"/><rect x="948" y="576" width="3" height="68"/><rect x="956" y="571" width="3" height="73"/><rect x="964" y="571" width="3" height="73"/><rect x="972" y="575" width="3" height="69"/><rect x="980" y="579" width="3" height="65"/><rect x="988" y="583" width="3" height="61"/><rect x="996" y="583" width="3" height="61"/><rect x="1004" y="580" width="3" height="64"/><rect x="1012" y="579" width="3" height="65"/><rect x="1020" y="583" width="3" height="61"/><rect x="1028" y="586" width="3" height="58"/><rect x="1036" y="589" width="3" height="55"/><rect x="1044" y="595" width="3" height="49"/><rect x="1052" y="600" width="3" height="44"/><rect x="1060" y="605" width="3" height="39"/><rect x="1068" y="613" width="3" height="31"/><rect x="1076" y="616" width="3" height="28"/><rect x="1084" y="626" width="3" height="18"/><rect x="1092" y="640" width="3" height="4"/><rect x="1100" y="643" width="3" height="14"/><rect x="1108" y="643" width="3" height="24"/><rect x="1116" y="643" width="3" height="33"/><rect x="1124" y="643" width="3" height="40"/><rect x="1132" y="643" width="3" height="45"/><rect x="1140" y="643" width="3" height="52"/><rect x="1148" y="643" width="3" height="56"/><rect x="1156" y="643" width="3" height="57"/><rect x="1164" y="643" width="3" height="59"/><rect x="1172" y="643" width="3" height="64"/><rect x="1180" y="643" width="3" height="69"/><rect x="1188" y="643" width="3" height="77"/><rect x="1196" y="643" width="3" height="84"/><rect x="1204" y="643" width="3" height="84"/><rect x="1212" y="643" width="3" height="87"/><rect x="1220" y="643" width="3" height="91"/><rect x="1228" y="643" width="3" height="89"/><rect x="1236" y="643" width="3" height="88"/><rect x="1244" y="643" width="3" height="88"/><rect x="1252" y="643" width="3" height="87"/><rect x="1260" y="643" width="3" height="74"/><rect x="1268" y="643" width="3" height="69"/><rect x="1276" y="643" width="3" height="55"/><rect x="1284" y="643" width="3" height="48"/>
</g>
</g>
<g fill="none" stroke="#f00" stroke-width="1" shape-rendering="crispEdges"><polyline id="sg" points="5.5,683.5 13.5,680.5 21.5,677.1 29.5,671.5 37.5,667.5 45.5,664.5 53.5,661.5 61.5,660.5 69.5,659.9 77.5,659.9 85.5,660.9 93.5,663.1 101.5,666.1 109.5,669.1 117.5,670.1 125.5,672.1 133.5,673.1 141.5,674.1 149.5,674.5 157.5,674.5 165.5,673.9 173.5,673.5 181.5,674.5 189.5,675.1 197.5,675.9 205.5,677.5 213.5,681.1 221.5,683.9 229.5,688.1 237.5,693.5 245.5,697.1 253.5,701.9 261.5,706.1 269.5,711.1 277.5,715.1 285.5,717.1 293.5,719.1 301.5,719.5 309.5,719.5 317.5,719.5 325.5,717.5 333.5,714.9 341.5,711.5 349.5,708.5 357.5,704.5 365.5,700.1 373.5,696.9 381.5,694.9 389.5,692.9 397.5,691.1 405.5,688.9 413.5,686.9 421.5,685.1 429.5,683.1 437.5,679.1 445.5,674.5 453.5,669.5 461.5,663.9 469.5,657.5 477.5,651.1 485.5,644.1 493.5,638.5 501.5,633.5 509.5,628.5 517.5,624.5 525.5,622.5 533.5,621.1 541.5,621.5 549.5,624.5 557.5,628.5 565.5,633.5 573.5,638.1 581.5,643.9 589.5,649.9 597.5,655.1 605.5,659.1 613.5,661.5 621.5,661.5 629.5,660.9 637.5,658.9 645.5,656.5 653.5,653.5 661.5,650.5 669.5,647.5 677.5,645.5 685.5,645.5 693.5,645.5 701.5,646.1 709.5,648.5 717.5,649.5 725.5,650.5 733.5,650.5 741.5,650.5 749.5,649.9 757.5,647.5 765.5,644.5 773.5,641.5 781.5,638.5 789.5,636.9 797.5,634.9 805.5,632.5 813.5,631.9 821.5,631.9 829.5,632.9 837.5,633.9 845.5,636.9 853.5,638.9 861.5,640.9 869.5,644.1 877.5,644.5 885.5,644.1 893.5,642.9 901.5,641.1 909.5,638.1 917.5,635.1 925.5,630.5 933.5,624.5 941.5,616.5 949.5,608.5 957.5,601.1 965.5,595.5 973.5,590.5 981.5,585.5 989.5,581.9 997.5,578.5 1005.5,577.5 1013.5,577.5 1021.5,578.1 1029.5,580.1 1037.5,581.9 1045.5,584.1 1053.5,586.1 1061.5,589.5 1069.5,592.5 1077.5,596.1 1085.5,601.5 1093.5,608.1 1101.5,615.5 1109.5,624.5 1117.5,633.5 1125.5,642.5 1133.5,650.5 1141.5,659.5 1149.5,667.5 1157.5,675.5 1165.5,682.5 1173.5,688.9 1181.5,694.5 1189.5,699.5 1197.5,704.5 1205.5,708.5 1213.5,712.5 1221.5,716.5 1229.5,720.1 1237.5,723.5 1245.5,725.9 1253.5,727.5 1261.5,727.5 1269.5,726.1 1277.5,723.1 1285.5,719.5"/><use href="#sg" x="1"/><use href="#sg" y="1"/><use href="#sg" x="1" y="1"/></g>
<g shape-rendering="crispEdges">
<rect x="4.5" y="4.5" width="1618" height="555" fill="none" stroke="#000"/>
<rect x="4.5" y="561.5" width="1618" height="181" fill="none" stroke="#000"/>
<rect x="1623" y="28" width="2" height="1" fill="#000"/><rect x="1623" y="61" width="2" height="1" fill="#000"/><rect x="1623" y="94" width="2" height="1" fill="#000"/><rect x="1623" y="127" width="2" height="1" fill="#000"/><rect x="1623" y="160" width="2" height="1" fill="#000"/><rect x="1623" y="193" width="2" height="1" fill="#000"/><rect x="1623" y="226" width="2" height="1" fill="#000"/><rect x="1623" y="259" width="2" height="1" fill="#000"/><rect x="1623" y="292" width="2" height="1" fill="#000"/><rect x="1623" y="325" width="2" height="1" fill="#000"/><rect x="1623" y="358" width="2" height="1" fill="#000"/><rect x="1623" y="391" width="2" height="1" fill="#000"/><rect x="1623" y="424" width="2" height="1" fill="#000"/><rect x="1623" y="457" width="2" height="1" fill="#000"/><rect x="1623" y="490" width="2" height="1" fill="#000"/><rect x="1623" y="523" width="2" height="1" fill="#000"/><rect x="1623" y="556" width="2" height="1" fill="#000"/>
<rect x="1623" y="563" width="1" height="1" fill="#000"/><rect x="1623" y="643" width="1" height="1" fill="#000"/><rect x="1623" y="741" width="1" height="1" fill="#000"/>
<rect x="5" y="743" width="1" height="3" fill="#000"/><rect x="69" y="743" width="1" height="3" fill="#000"/><rect x="133" y="743" width="1" height="3" fill="#000"/><rect x="197" y="743" width="1" height="3" fill="#000"/><rect x="261" y="743" width="1" height="3" fill="#000"/><rect x="325" y="743" width="1" height="3" fill="#000"/><rect x="389" y="743" width="1" height="3" fill="#000"/><rect x="453" y="743" width="1" height="3" fill="#000"/><rect x="517" y="743" width="1" height="3" fill="#000"/><rect x="581" y="743" width="1" height="3" fill="#000"/><rect x="645" y="743" width="1" height="3" fill="#000"/><rect x="709" y="743" width="1" height="3" fill="#000"/><rect x="773" y="743" width="1" height="3" fill="#000"/><rect x="837" y="743" width="1" height="3" fill="#000"/><rect x="901" y="743" width="1" height="3" fill="#000"/><rect x="965" y="743" width="1" height="3" fill="#000"/><rect x="1029" y="743" width="1" height="3" fill="#000"/><rect x="1093" y="743" width="1" height="3" fill="#000"/><rect x="1157" y="743" width="1" height="3" fill="#000"/><rect x="1221" y="743" width="1" height="3" fill="#000"/><rect x="1285" y="743" width="1" height="3" fill="#000"/>
<rect x="1624" y="311" width="36" height="11" fill="#000"/>
<rect x="1624" y="376" width="36" height="11" fill="#000"/>
<rect x="1624" y="410" width="36" height="11" fill="#000"/>
<rect x="1624" y="467" width="36" height="11" fill="#0000cd"/>
</g>
<line x1="1303.5" y1="474.5" x2="1338.6" y2="346" stroke="#f00" stroke-width="5.8" stroke-linecap="round"/>
<polygon points="1348,310.4 1327.4,341.2 1350.2,347.6" fill="#f00"/>
<clipPath id="ct"><rect x="1623" y="0" width="31" height="765"/></clipPath>
<g clip-path="url(#ct)">
<text x="1628" y="32">4092.5</text><text x="1628" y="65">4067.0</text><text x="1628" y="98">4041.5</text><text x="1628" y="131">4016.5</text><text x="1628" y="164">3991.0</text><text x="1628" y="197">3965.5</text><text x="1628" y="230">3940.0</text><text x="1628" y="263">3914.5</text><text x="1628" y="296">3889.0</text><text x="1628" y="329">3863.5</text><text x="1628" y="362">3838.5</text><text x="1628" y="395">3813.0</text><text x="1628" y="428">3787.5</text><text x="1628" y="461">3762.0</text><text x="1628" y="494">3736.5</text><text x="1628" y="527">3711.0</text><text x="1628" y="560">3686.0</text>
<text x="1628" y="320" class="w">3870.0</text><text x="1628" y="385" class="w">3820.1</text><text x="1628" y="419" class="w">3794.9</text><text x="1628" y="476" class="w">3750.0</text></g>
<text x="1626" y="572">49.72</text><text x="1626" y="647">0.00</text><text x="1626" y="739">-60.39</text>
<text x="4" y="755" class="d">5 May 2023</text><text x="68" y="755" class="d">11 May 05:00</text><text x="132" y="755" class="d">17 May 05:00</text><text x="196" y="755" class="d">23 May 05:00</text><text x="260" y="755" class="d">29 May 05:00</text><text x="324" y="755" class="d">2 Jun 05:00</text><text x="388" y="755" class="d">8 Jun 05:00</text><text x="452" y="755" class="d">14 Jun 05:00</text><text x="516" y="755" class="d">20 Jun 05:00</text><text x="580" y="755" class="d">28 Jun 05:00</text><text x="644" y="755" class="d">4 Jul 05:00</text><text x="708" y="755" class="d">10 Jul 05:00</text><text x="772" y="755" class="d">14 Jul 05:00</text><text x="836" y="755" class="d">20 Jul 05:00</text><text x="900" y="755" class="d">26 Jul 05:00</text><text x="964" y="755" class="d">1 Aug 05:00</text><text x="1028" y="755" class="d">7 Aug 05:00</text><text x="1092" y="755" class="d">11 Aug 05:00</text><text x="1156" y="755" class="d">17 Aug 05:00</text><text x="1220" y="755" class="d">23 Aug 05:00</text><text x="1284" y="755" class="d">29 Aug 05:00</text>
<g shape-rendering="crispEdges"><rect x="8" y="11" width="7" height="1"/><rect x="9" y="12" width="5" height="1"/><rect x="10" y="13" width="3" height="1"/><rect x="11" y="14" width="1" height="1"/></g>
<text x="20" y="16" id="title" style="letter-spacing:-0.1px">CHINA300-,H4</text><text x="91" y="16" id="title2" style="letter-spacing:-0.35px">3824.8 3826.7 3786.1 3794.9</text>
<text x="9" y="574" id="macdl">MACD(12,26,9) -28.54 -46.26</text>
<g shape-rendering="crispEdges"><rect x="1654" y="0" width="1" height="765" fill="#5a5a4a"/><rect x="1655" y="0" width="2" height="765" fill="#ffe533"/></g>
</svg>
</body></html>
